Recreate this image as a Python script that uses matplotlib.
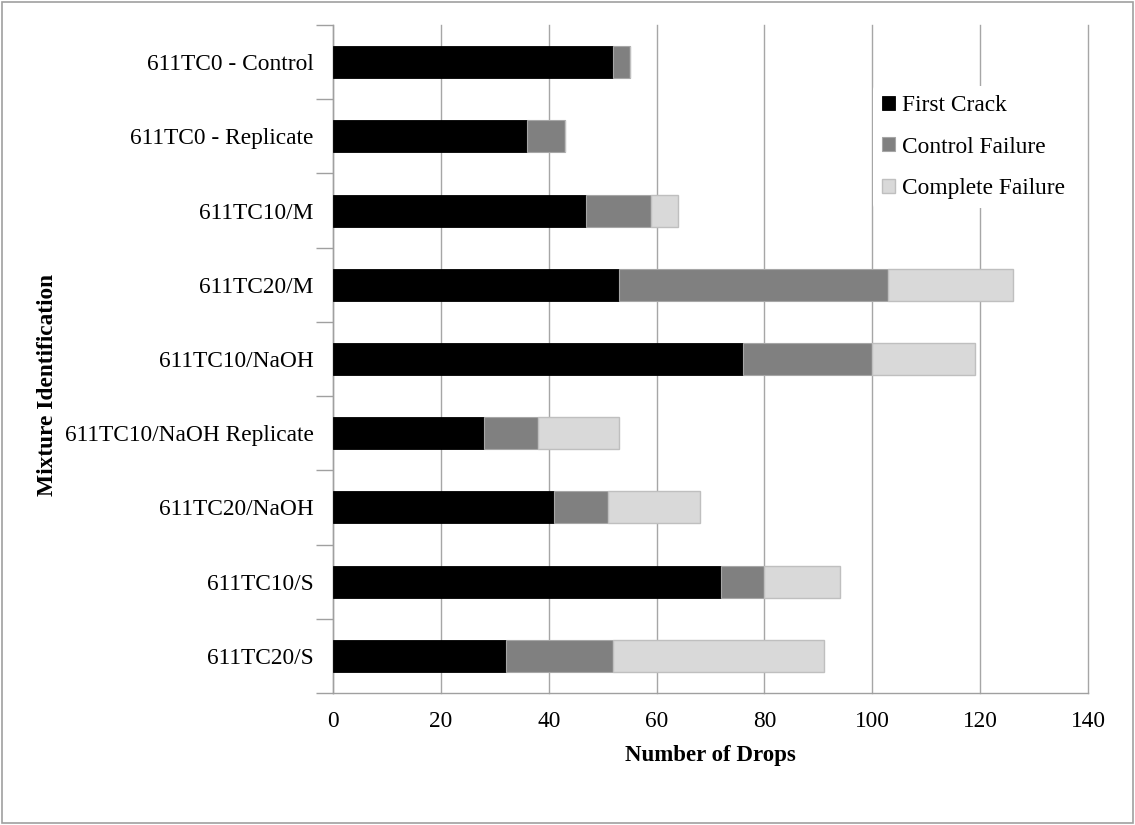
import matplotlib
matplotlib.use("Agg")
import matplotlib.pyplot as plt
from matplotlib.patches import Rectangle
import numpy as np

plt.rcParams['font.family'] = ['Liberation Serif', 'DejaVu Serif']

mixtures = [
    "611TC0 - Control",
    "611TC0 - Replicate",
    "611TC10/M",
    "611TC20/M",
    "611TC10/NaOH",
    "611TC10/NaOH Replicate",
    "611TC20/NaOH",
    "611TC10/S",
    "611TC20/S",
]
# cumulative drop counts at each stage
first_crack = [52, 36, 47, 53, 76, 28, 41, 72, 32]
control_failure = [55, 43, 59, 103, 100, 38, 51, 80, 52]
complete_failure = [55, 43, 64, 126, 119, 53, 68, 94, 91]
x_ticks = [0, 20, 40, 60, 80, 100, 120, 140]

fc = np.array(first_crack)
cf = np.array(control_failure) - fc
tf = np.array(complete_failure) - np.array(control_failure)

W, H = 1135, 825
fig = plt.figure(figsize=(W / 100, H / 100), dpi=100)
ax = fig.add_axes([333 / W, 1 - 693 / H, (1088 - 333) / W, (693 - 25) / H])

y = np.arange(len(mixtures))
h = 0.43
ax.barh(y, fc, height=h, color="#000000", edgecolor="#000000", linewidth=0.6, label="First Crack", zorder=3)
ax.barh(y, cf, left=fc, height=h, color="#808080", edgecolor="#a6a6a6", linewidth=0.8, label="Control Failure", zorder=3)
ax.barh(y, tf, left=fc + cf, height=h, color="#d9d9d9", edgecolor="#bfbfbf", linewidth=1.0, label="Complete Failure", zorder=3)

ax.set_ylim(len(mixtures) - 0.5, -0.5)
ax.set_xlim(0, 140)
ax.set_xticks(x_ticks)
ax.set_xticklabels([str(v) for v in x_ticks], fontsize=16.8)
ax.set_yticks(y)
ax.set_yticklabels(mixtures, fontsize=16.8)
ax.tick_params(axis='y', length=0, pad=14)
ax.tick_params(axis='x', length=0, pad=13)
ax.set_yticks(np.arange(-0.5, len(mixtures)), minor=True)
ax.tick_params(axis='y', which='minor', length=12, color="#a0a0a0", width=1)

ax.grid(axis='x', color="#a6a6a6", linewidth=1, zorder=0)
for gl in ax.get_xgridlines():
    gl.set_clip_on(False)
for side in ('top', 'right'):
    ax.spines[side].set_visible(False)
for side in ('left', 'bottom'):
    ax.spines[side].set_color("#a0a0a0")
    ax.spines[side].set_linewidth(1)

ax.set_xlabel("Number of Drops", fontsize=16.5, fontweight='bold', labelpad=9)
ax.set_ylabel("Mixture Identification", fontsize=16.8, fontweight='bold')
ax.yaxis.set_label_coords(48 / W, 1 - 385 / H, transform=fig.transFigure)
ax.yaxis.label.set_verticalalignment('center')

leg = ax.legend(loc='upper left', bbox_to_anchor=(861 / W, 1 - 74 / H),
                bbox_transform=fig.transFigure, frameon=True, fontsize=16.8,
                handlelength=0.55, handleheight=0.55, handletextpad=0.3,
                labelspacing=0.88, borderpad=0.4)
leg.get_frame().set_edgecolor("none")
leg.get_frame().set_facecolor("white")
leg.get_frame().set_alpha(1)

fig.patches.append(Rectangle((2 / W, 2 / H), 1131 / W, 821 / H,
                             transform=fig.transFigure, fill=False,
                             edgecolor="#a0a0a0", linewidth=1.2))

fig.savefig("out.png", dpi=100)
